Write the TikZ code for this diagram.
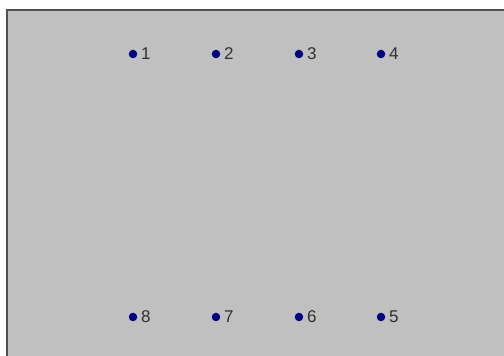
\documentclass[tikz,border=0pt]{standalone}
\usepackage{fontspec}
\setmainfont{Liberation Sans}
\definecolor{panel}{HTML}{C0C0C0}
\definecolor{frameline}{HTML}{505050}
\definecolor{dotblue}{HTML}{000080}
\definecolor{labelgray}{HTML}{303030}
\begin{document}
\begin{tikzpicture}[x=1pt,y=1pt,
  dotmark/.style={circle,fill=dotblue,inner sep=0pt,minimum size=8.5pt},
  numlabel/.style={anchor=west,inner sep=0pt,text=labelgray,font=\fontsize{17}{17}\selectfont}]
\useasboundingbox (0,0) rectangle (504,356);
\fill[white] (0,0) rectangle (504,356);
\fill[panel] (6,0) rectangle (504,347);
\draw[frameline,line width=1.6pt] (6.8,0) -- (6.8,346.2) -- (504,346.2);
% top row
\foreach \i/\x in {1/133,2/216,3/299,4/381}{
  \node[dotmark] (d\i) at (\x,302) {};
  \node[numlabel] (l\i) at ([xshift=3.5pt]d\i.east) {\i};
}
% bottom row
\foreach \i/\x in {8/133,7/216,6/299,5/381}{
  \node[dotmark] (d\i) at (\x,39) {};
  \node[numlabel] (l\i) at ([xshift=3.5pt]d\i.east) {\i};
}
\end{tikzpicture}
\end{document}
